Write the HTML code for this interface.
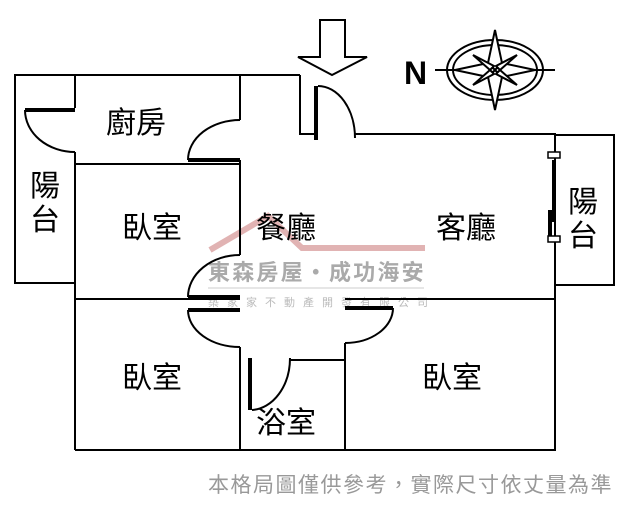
<!DOCTYPE html>
<html><head><meta charset="utf-8"><style>
body{margin:0;background:#fff;}
svg{display:block;}
text{font-family:"Liberation Sans","Noto Sans CJK TC",sans-serif;}
</style></head><body>
<svg width="630" height="510" viewBox="0 0 630 510" xmlns="http://www.w3.org/2000/svg">
<rect width="630" height="510" fill="#fff"/>
<polyline points="210,250 268,216 302,248 425,248" fill="none" stroke="#d9a0a0" stroke-width="6" opacity="0.8"/>
<text x="208" y="280" font-size="22" font-weight="bold" fill="#aaa" letter-spacing="2.2">東森房屋・成功海安</text>
<line x1="208" y1="288" x2="424" y2="288" stroke="#ccc" stroke-width="1"/>
<text x="208" y="306" font-size="11" fill="#bbb" letter-spacing="8">築家家不動產開發有限公司</text>
<g fill="none" stroke="#000" stroke-width="2">
<polyline points="75,75 15,75 15,283 75,283"/>
<line x1="75" y1="75" x2="300" y2="75"/>
<line x1="75" y1="75" x2="75" y2="108"/>
<line x1="75" y1="152" x2="75" y2="450"/>
<line x1="75" y1="164" x2="240" y2="164"/>
<line x1="240" y1="75" x2="240" y2="120"/>
<line x1="240" y1="160" x2="240" y2="255"/>
<line x1="240" y1="347" x2="240" y2="450"/>
<line x1="75" y1="299" x2="240" y2="299"/>
<line x1="345" y1="299" x2="555" y2="299"/>
<polyline points="300,75 300,134 314,134"/>
<polyline points="355,134 555,134 555,450 75,450"/>
<polyline points="555,135 614,135 614,285 555,285"/>
<line x1="290" y1="360" x2="345" y2="360"/>
<line x1="345" y1="343" x2="345" y2="450"/>
<path d="M25,110 A50,42 0 0 0 75,152"/>
<path d="M188,160 A52,40 0 0 1 240,120"/>
<path d="M188,297 A52,42 0 0 1 240,255"/>
<path d="M188,310 A52,37 0 0 0 240,347"/>
<path d="M393,308 A48,35 0 0 1 345,343"/>
<path d="M318,86 A37,52 0 0 1 355,138"/>
<path d="M252,410 A40,52 0 0 0 290,358"/>
<polygon points="320,20 345,20 345,57 367,57 332,75 298,57 320,57"/>
</g>
<g stroke="#000" stroke-width="4" fill="none">
<line x1="25" y1="110" x2="75" y2="110"/>
<line x1="188" y1="160" x2="240" y2="160"/>
<line x1="188" y1="297" x2="240" y2="297"/>
<line x1="188" y1="310" x2="240" y2="310"/>
<line x1="345" y1="308" x2="393" y2="308"/>
<line x1="316" y1="86" x2="316" y2="140"/>
<line x1="250" y1="358" x2="250" y2="410"/>
<line x1="554" y1="160" x2="554" y2="222"/>
<line x1="550" y1="210" x2="550" y2="240"/>
</g>
<g fill="#fff" stroke="#000" stroke-width="1.5">
<rect x="548" y="152" width="12" height="6"/>
<rect x="548" y="236" width="12" height="6"/>
</g>
<g fill="none" stroke="#000" stroke-width="2">
<ellipse cx="495" cy="70" rx="48" ry="30"/>
<ellipse cx="495" cy="70" rx="42" ry="25"/>
<line x1="435" y1="70" x2="555" y2="70"/>
</g>
<g fill="#fff" stroke="#000" stroke-width="2">
<polygon points="495,30 502,63 495,70 488,63"/>
<polygon points="495,110 502,77 495,70 488,77"/>
<polygon points="455,70 488,63 495,70 488,77"/>
<polygon points="535,70 502,63 495,70 502,77"/>
<polygon points="473,55 494,66 490,70"/>
<polygon points="517,55 496,66 500,70"/>
<polygon points="473,85 494,74 490,70"/>
<polygon points="517,85 496,74 500,70"/>
</g>
<text x="404" y="84" font-size="32" font-weight="bold">N</text>
<g font-size="30" fill="#000">
<text x="106" y="133">廚房</text>
<text x="122" y="238">臥室</text>
<text x="256" y="238">餐廳</text>
<text x="436" y="238">客廳</text>
<text x="122" y="388">臥室</text>
<text x="422" y="388">臥室</text>
<text x="256" y="433">浴室</text>
<text x="30" y="196">陽</text>
<text x="30" y="230">台</text>
<text x="568" y="212">陽</text>
<text x="568" y="246">台</text>
</g>
<text x="208" y="492" font-size="21" fill="#999" letter-spacing="1.5">本格局圖僅供參考，實際尺寸依丈量為準</text>
</svg>
</body></html>
